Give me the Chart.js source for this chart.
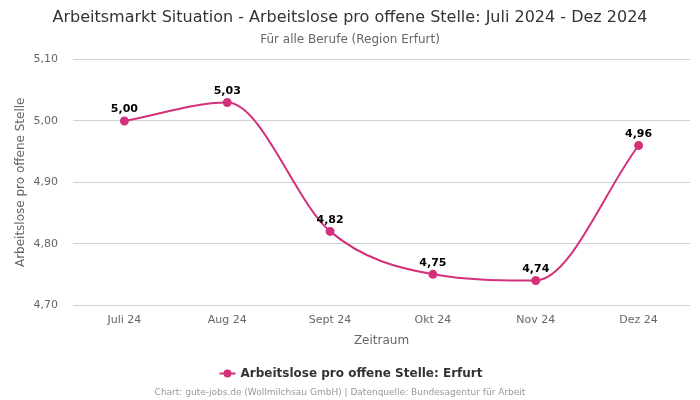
<!DOCTYPE html>
<html>
<head>
<meta charset="utf-8">
<script src="https://cdn.jsdelivr.net/npm/chart.js@4"></script>
<style>
  html, body { margin: 0; padding: 0; background: #fff; }
  #wrap { width: 700px; height: 400px; position: relative; }
</style>
</head>
<body>
<div id="wrap"><canvas id="chart"></canvas></div>
<script>
// Daten
const monate = ['Juli 24', 'Aug 24', 'Sept 24', 'Okt 24', 'Nov 24', 'Dez 24'];
const werte = [5.00, 5.03, 4.82, 4.75, 4.74, 4.96];
const serienName = 'Arbeitslose pro offene Stelle: Erfurt';
const farbe = '#d3317b';

const fontFamily = '"DejaVu Sans", sans-serif';
const fmt = v => v.toFixed(2).replace('.', ',');

// Werte über den Punkten
const wertLabels = {
    id: 'wertLabels',
    afterDatasetsDraw(chart) {
        const ctx = chart.ctx;
        const meta = chart.getDatasetMeta(0);
        ctx.save();
        ctx.font = 'bold 11px ' + fontFamily;
        ctx.fillStyle = '#000';
        ctx.textAlign = 'center';
        ctx.textBaseline = 'bottom';
        meta.data.forEach((pt, i) => {
            ctx.fillText(fmt(werte[i]), pt.x, pt.y - 6);
        });
        ctx.restore();
    }
};

// Legende und Quelle unten
const fussZeile = {
    id: 'fussZeile',
    afterDraw(chart) {
        const ctx = chart.ctx;
        const cx = chart.width / 2;
        ctx.save();
        ctx.font = 'bold 12px ' + fontFamily;
        const tw = ctx.measureText(serienName).width;
        const total = 16 + 5 + tw;
        const x0 = cx - total / 2 + 1;
        const y = 373.5;
        ctx.strokeStyle = farbe;
        ctx.lineWidth = 2;
        ctx.beginPath();
        ctx.moveTo(x0, y);
        ctx.lineTo(x0 + 16, y);
        ctx.stroke();
        ctx.fillStyle = farbe;
        ctx.beginPath();
        ctx.arc(x0 + 8, y, 4, 0, Math.PI * 2);
        ctx.fill();
        ctx.fillStyle = '#333';
        ctx.textAlign = 'left';
        ctx.textBaseline = 'middle';
        ctx.fillText(serienName, x0 + 21, y);

        ctx.font = '9px ' + fontFamily;
        ctx.fillStyle = '#999';
        ctx.textAlign = 'center';
        ctx.fillText('Chart: gute-jobs.de (Wollmilchsau GmbH) | Datenquelle: Bundesagentur für Arbeit', cx - 10, 393);
        ctx.restore();
    }
};

const chart = new Chart(document.getElementById('chart'), {
    type: 'line',
    data: {
        labels: monate,
        datasets: [{
            label: serienName,
            data: werte,
            borderColor: farbe,
            backgroundColor: farbe,
            borderWidth: 2,
            pointRadius: 3.5,
            pointHoverRadius: 3.5,
            cubicInterpolationMode: 'monotone',
            fill: false
        }]
    },
    options: {
        responsive: true,
        maintainAspectRatio: false,
        animation: false,
        layout: { padding: { left: 10, right: 10, top: 0, bottom: 48 } },
        plugins: {
            legend: { display: false },
            tooltip: { enabled: false },
            title: {
                display: true,
                text: 'Arbeitsmarkt Situation - Arbeitslose pro offene Stelle: Juli 2024 - Dez 2024',
                color: '#333',
                font: { family: fontFamily, size: 16, weight: 'normal' },
                padding: { top: 8, bottom: 5 }
            },
            subtitle: {
                display: true,
                text: 'Für alle Berufe (Region Erfurt)',
                color: '#666',
                font: { family: fontFamily, size: 12 },
                padding: { bottom: 13 }
            }
        },
        scales: {
            x: {
                offset: true,
                grid: { display: false, drawTicks: false },
                border: { display: false },
                ticks: { color: '#666', font: { family: fontFamily, size: 11 }, padding: 9 },
                title: {
                    display: true,
                    text: 'Zeitraum',
                    color: '#666',
                    font: { family: fontFamily, size: 12 },
                    padding: { top: 2 }
                },
                afterFit(scale) { scale.height = 47; }
            },
            y: {
                min: 4.7,
                max: 5.1,
                grid: { color: '#d0d0d0', drawTicks: false },
                border: { display: false },
                ticks: {
                    stepSize: 0.1,
                    color: '#666',
                    font: { family: fontFamily, size: 11 },
                    padding: 15,
                    callback: v => fmt(v)
                },
                title: {
                    display: true,
                    text: 'Arbeitslose pro offene Stelle',
                    color: '#666',
                    font: { family: fontFamily, size: 12 },
                    padding: { top: 4, bottom: 4 }
                },
                afterFit(scale) { scale.width = 63; }
            }
        }
    },
    plugins: [wertLabels, fussZeile]
});
</script>
</body>
</html>
